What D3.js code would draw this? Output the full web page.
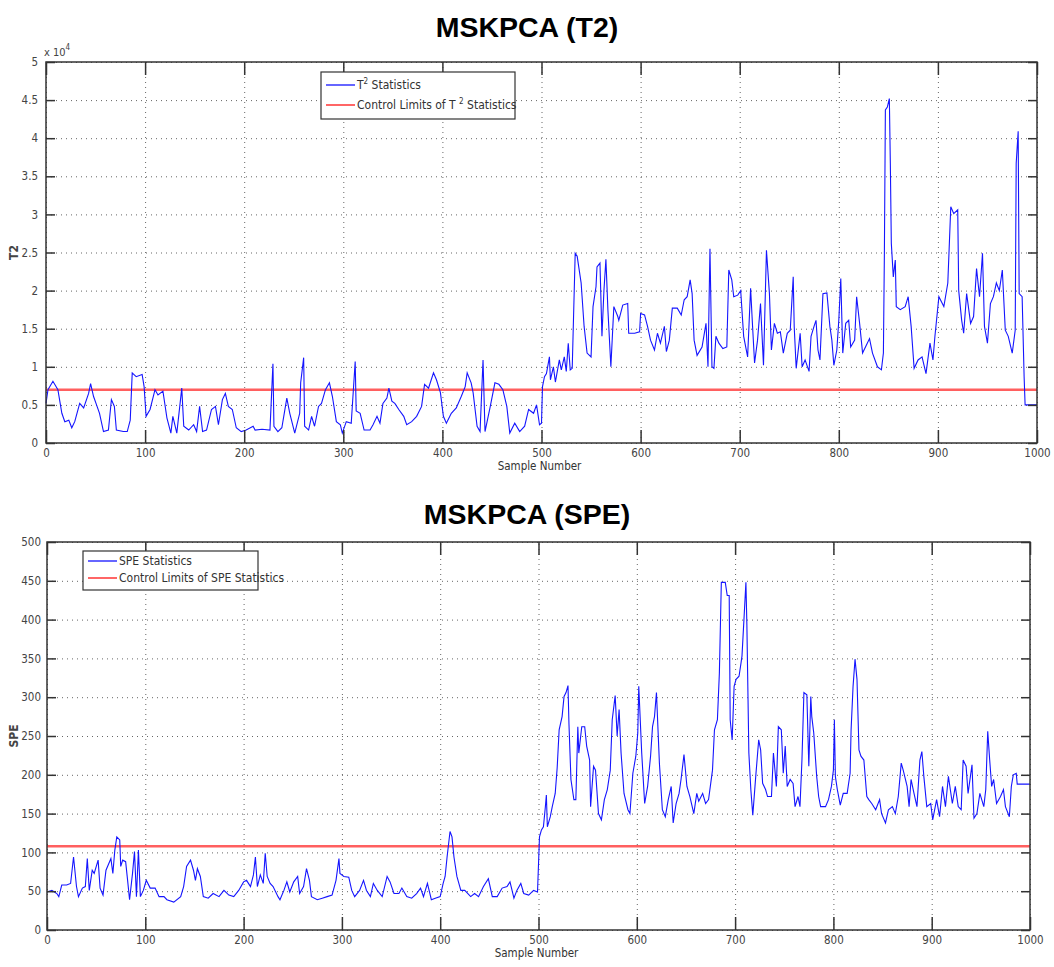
<!DOCTYPE html>
<html>
<head>
<meta charset="utf-8">
<script src="https://cdn.jsdelivr.net/npm/d3@7"></script>
<style>
  body { margin: 0; background: #fff; }
  svg { display: block; }
</style>
</head>
<body>
<svg id="chart" width="1054" height="967"></svg>
<script>
// sample axis ticks shared by both panels
const sampleTicks = [0, 100, 200, 300, 400, 500, 600, 700, 800, 900, 1000];
const t2Ticks = [0, 0.5, 1, 1.5, 2, 2.5, 3, 3.5, 4, 4.5, 5];     // x 10^4
const speTicks = [0, 50, 100, 150, 200, 250, 300, 350, 400, 450, 500];

const t2Limit = 0.7;    // x 10^4
const speLimit = 108;

// [sample, T2 (x 10^4)]
const t2Series = [
  [0,0.52],[2,0.70],[7,0.81],[12,0.70],[16,0.39],[19,0.28],[23,0.30],[26,0.20],[29,0.28],[34,0.52],
  [38,0.46],[43,0.65],[45,0.78],[48,0.61],[51,0.50],[54,0.39],[58,0.15],[63,0.17],[66,0.57],[69,0.48],
  [71,0.17],[78,0.15],[82,0.15],[85,0.30],[87,0.92],[91,0.87],[97,0.90],[99,0.74],[101,0.35],[105,0.44],
  [110,0.70],[113,0.63],[118,0.68],[122,0.33],[126,0.13],[128,0.35],[132,0.13],[137,0.72],[139,0.22],[144,0.17],
  [149,0.24],[152,0.15],[155,0.48],[158,0.15],[162,0.17],[167,0.44],[171,0.48],[174,0.24],[178,0.57],[181,0.65],
  [184,0.48],[188,0.44],[192,0.20],[197,0.15],[202,0.17],[209,0.22],[211,0.17],[218,0.18],[226,0.17],[229,1.04],
  [230,0.22],[234,0.15],[238,0.20],[243,0.59],[246,0.39],[251,0.13],[256,0.39],[257,0.79],[260,1.12],[261,0.22],
  [265,0.17],[268,0.35],[271,0.22],[275,0.48],[278,0.52],[282,0.70],[286,0.79],[289,0.61],[293,0.28],[297,0.24],
  [299,0.13],[303,0.28],[308,0.26],[312,1.07],[313,0.42],[317,0.39],[321,0.17],[327,0.17],[330,0.24],[334,0.35],
  [337,0.26],[340,0.52],[344,0.59],[346,0.72],[349,0.55],[352,0.52],[356,0.44],[361,0.35],[364,0.24],[369,0.28],
  [374,0.35],[379,0.48],[382,0.77],[386,0.72],[391,0.92],[394,0.83],[398,0.66],[401,0.35],[404,0.26],[409,0.39],
  [414,0.46],[419,0.61],[423,0.74],[425,0.92],[429,0.79],[431,0.66],[435,0.22],[438,0.15],[441,1.09],[443,0.15],
  [448,0.46],[453,0.79],[457,0.77],[461,0.70],[465,0.48],[468,0.13],[473,0.26],[478,0.15],[483,0.22],[487,0.44],
  [492,0.39],[495,0.50],[498,0.24],[500,0.26],[501,0.74],[503,0.87],[505,0.91],[508,1.13],[509,0.83],[512,1.00],
  [514,0.80],[518,1.09],[520,0.96],[523,1.13],[525,0.94],[527,1.31],[529,0.96],[531,0.98],[534,2.49],[536,2.45],
  [540,2.10],[543,1.53],[546,1.18],[550,1.13],[552,1.79],[555,2.05],[556,2.31],[559,2.36],[561,1.40],[563,2.00],
  [565,2.41],[567,1.75],[570,1.00],[573,1.79],[577,1.66],[578,1.61],[582,1.81],[587,1.83],[588,1.44],[594,1.44],
  [599,1.46],[600,1.70],[604,1.68],[607,1.53],[610,1.35],[614,1.22],[617,1.44],[620,1.31],[624,1.53],[626,1.20],
  [629,1.35],[632,1.77],[637,1.77],[641,1.68],[644,1.88],[647,1.92],[650,2.14],[652,1.96],[654,1.35],[657,1.15],
  [662,1.26],[666,1.57],[668,1.00],[670,2.55],[672,1.00],[674,0.98],[676,1.40],[679,1.31],[683,1.24],[687,1.26],
  [689,2.27],[692,2.14],[694,1.92],[698,1.94],[701,2.00],[704,1.40],[708,1.13],[711,2.03],[713,1.53],[715,1.05],
  [718,1.35],[721,1.83],[724,1.02],[727,2.53],[730,1.96],[732,1.22],[735,1.57],[738,1.44],[741,1.46],[744,1.18],
  [748,1.44],[751,1.48],[754,2.18],[755,1.53],[757,0.98],[761,1.44],[763,1.00],[766,1.09],[770,0.94],[772,1.40],
  [775,1.53],[777,1.61],[779,1.22],[781,1.09],[784,1.96],[788,1.97],[791,1.53],[793,1.35],[795,1.02],[798,1.22],
  [800,1.61],[802,2.16],[804,1.18],[807,1.57],[810,1.61],[812,1.26],[816,1.35],[818,1.92],[821,1.57],[824,1.18],
  [828,1.29],[831,1.37],[834,1.18],[839,1.00],[843,0.96],[845,1.18],[846,2.49],[847,4.37],[849,4.41],[851,4.52],
  [852,3.67],[853,2.62],[855,2.18],[857,2.40],[858,1.79],[862,1.75],[867,1.79],[870,1.92],[873,1.53],[876,0.98],
  [880,1.09],[884,1.13],[888,0.91],[892,1.31],[895,1.09],[897,1.40],[901,1.92],[906,1.79],[910,2.10],[913,3.10],
  [916,3.01],[920,3.06],[921,2.00],[924,1.61],[926,1.44],[929,1.96],[933,1.57],[936,1.66],[939,2.29],[942,1.92],
  [945,2.49],[947,1.53],[950,1.31],[953,1.83],[956,1.92],[959,2.10],[962,2.00],[965,2.27],[968,1.48],[971,1.40],
  [975,1.18],[978,1.48],[979,3.67],[981,4.09],[982,1.96],[985,1.92],[987,0.87],[988,0.50],[1000,0.50]
];

// [sample, SPE]
const speSeries = [
  [0,49],[5,51],[10,47],[12,43],[15,58],[20,58],[24,60],[27,94],[30,56],[32,43],
  [36,54],[39,56],[41,92],[43,51],[46,77],[48,73],[52,90],[54,54],[57,45],[60,77],
  [63,86],[65,92],[67,73],[69,103],[71,120],[74,116],[75,82],[77,90],[80,88],[82,64],
  [84,39],[87,73],[89,101],[91,43],[93,103],[95,43],[98,51],[101,64],[105,54],[110,54],
  [114,43],[119,43],[122,39],[129,36],[136,43],[139,56],[142,82],[146,90],[149,77],[151,64],
  [153,79],[156,69],[159,43],[164,41],[169,47],[175,43],[180,51],[185,45],[190,43],[195,51],
  [200,62],[203,64],[207,56],[210,71],[212,94],[214,56],[217,71],[220,60],[222,99],[224,69],
  [227,60],[230,56],[235,43],[237,39],[241,51],[244,62],[247,49],[251,62],[255,69],[257,47],
  [261,56],[264,79],[267,64],[269,43],[275,39],[280,41],[285,43],[290,45],[294,64],[297,92],
  [298,73],[302,69],[307,68],[310,51],[313,43],[318,51],[322,64],[325,51],[329,43],[332,60],
  [336,51],[341,43],[346,69],[349,62],[353,47],[358,47],[361,54],[366,43],[371,41],[376,47],
  [380,54],[383,43],[387,60],[391,39],[395,41],[400,43],[403,60],[405,69],[407,94],[410,127],
  [412,120],[414,94],[417,69],[421,51],[425,51],[431,43],[435,47],[439,43],[444,56],[449,66],
  [453,43],[458,43],[463,54],[468,56],[471,62],[475,41],[478,51],[482,60],[485,47],[490,45],
  [495,51],[499,49],[501,120],[503,129],[505,133],[507,159],[508,174],[509,133],[512,146],[514,159],
  [517,176],[519,209],[521,258],[524,275],[526,301],[528,306],[530,315],[531,265],[533,194],[536,168],
  [538,168],[540,262],[541,228],[544,262],[547,262],[549,237],[552,219],[553,159],[556,211],[558,206],
  [561,150],[564,142],[567,168],[570,181],[573,206],[575,271],[578,302],[580,250],[582,284],[584,228],
  [587,176],[591,155],[593,150],[596,202],[599,224],[601,254],[602,314],[605,228],[608,163],[611,185],
  [614,224],[616,262],[618,275],[620,306],[623,215],[626,155],[629,146],[632,168],[635,185],[637,138],
  [640,163],[643,176],[645,194],[648,226],[651,185],[654,172],[658,150],[661,176],[663,166],[667,176],
  [670,163],[673,168],[677,206],[679,258],[682,271],[684,331],[686,448],[690,448],[692,431],[694,431],
  [695,271],[697,245],[699,314],[701,323],[704,327],[706,344],[707,353],[709,400],[711,448],[712,392],
  [714,228],[716,181],[718,148],[721,198],[724,245],[726,232],[728,189],[731,181],[733,172],[737,172],
  [739,228],[742,185],[744,262],[747,258],[749,202],[751,237],[753,185],[756,194],[759,189],[761,159],
  [764,172],[766,159],[768,219],[770,306],[773,303],[775,211],[777,301],[778,275],[780,254],[783,198],
  [785,172],[787,159],[792,159],[795,168],[798,185],[800,206],[801,271],[802,198],[804,181],[807,161],
  [810,176],[814,176],[817,202],[818,258],[820,314],[822,349],[824,323],[826,232],[828,224],[831,219],
  [834,172],[836,168],[839,163],[843,155],[847,168],[849,150],[853,138],[856,155],[860,159],[863,150],
  [866,172],[869,215],[871,206],[875,185],[877,159],[879,194],[882,176],[885,159],[888,219],[890,230],
  [892,198],[895,159],[899,163],[901,142],[905,168],[908,146],[911,185],[914,159],[917,198],[921,163],
  [924,185],[927,159],[930,155],[932,219],[935,211],[937,176],[941,213],[943,144],[946,150],[949,176],
  [953,159],[955,181],[957,256],[959,219],[961,185],[963,194],[966,163],[970,172],[973,181],[975,159],
  [979,146],[981,185],[983,200],[986,202],[987,188],[1000,188]
];

const svg = d3.select('#chart');
const narrow = '"Liberation Sans Narrow", "Arial Narrow", "DejaVu Sans Condensed", sans-serif';

function styleTicks(a) {
  a.select('.domain').remove();
  a.selectAll('.tick line').attr('stroke', '#333').attr('stroke-width', 1.5);
  a.selectAll('.tick text').attr('fill', '#444').style('font-family', narrow).style('font-size', '11.5px');
}

function drawPanel(p) {
  let x = d3.scaleLinear().domain([0, 1000]).range([p.left, p.right]);
  let y = d3.scaleLinear().domain([0, p.ymax]).range([p.bottom, p.top]);
  let h = p.bottom - p.top, w = p.right - p.left;
  let g = svg.append('g');

  // dotted grid
  g.append('g').attr('transform', 'translate(0,' + p.bottom + ')')
    .call(d3.axisBottom(x).tickValues(sampleTicks).tickSize(-h).tickFormat(''))
    .call(a => a.select('.domain').remove())
    .call(a => a.selectAll('line').attr('stroke', '#666').attr('stroke-dasharray', '1,4'));
  g.append('g').attr('transform', 'translate(' + p.left + ',0)')
    .call(d3.axisLeft(y).tickValues(p.yTicks).tickSize(-w).tickFormat(''))
    .call(a => a.select('.domain').remove())
    .call(a => a.selectAll('line').attr('stroke', '#666').attr('stroke-dasharray', '1,4'));

  // control limit
  g.append('line')
    .attr('x1', x(0)).attr('x2', x(1000))
    .attr('y1', y(p.limit)).attr('y2', y(p.limit))
    .attr('stroke', '#ff2a2a').attr('stroke-opacity', 0.75).attr('stroke-width', 2.5);

  // statistic line
  let line = d3.line().x(d => x(d[0])).y(d => y(d[1]));
  g.append('path').datum(p.data)
    .attr('d', line)
    .attr('fill', 'none')
    .attr('stroke', '#1515ff')
    .attr('stroke-width', 1.1);

  // inward ticks on all four sides (matlab look)
  g.append('g').attr('transform', 'translate(0,' + p.bottom + ')')
    .call(d3.axisBottom(x).tickValues(sampleTicks).tickSize(-13).tickPadding(6).tickFormat(d3.format('d')))
    .call(styleTicks);
  g.append('g').attr('transform', 'translate(0,' + p.top + ')')
    .call(d3.axisTop(x).tickValues(sampleTicks).tickSize(-13).tickFormat(''))
    .call(styleTicks);
  g.append('g').attr('transform', 'translate(' + p.left + ',0)')
    .call(d3.axisLeft(y).tickValues(p.yTicks).tickSize(-9).tickPadding(p.yPad).tickFormat(p.yFormat))
    .call(styleTicks);
  g.append('g').attr('transform', 'translate(' + p.right + ',0)')
    .call(d3.axisRight(y).tickValues(p.yTicks).tickSize(-9).tickFormat(''))
    .call(styleTicks);

  // frame
  g.append('rect')
    .attr('x', p.left).attr('y', p.top).attr('width', w).attr('height', h)
    .attr('fill', 'none').attr('stroke', '#333').attr('stroke-width', 1.5);

  // titles
  svg.append('text')
    .attr('x', 527).attr('y', p.titleY)
    .attr('text-anchor', 'middle')
    .style('font-family', 'Arial, "Liberation Sans", sans-serif')
    .style('font-weight', 'bold').style('font-size', '28.5px')
    .text(p.title);
  svg.append('text')
    .attr('x', (p.left + p.right) / 2 - 2).attr('y', p.bottom + 27)
    .attr('text-anchor', 'middle')
    .style('font-family', narrow).style('font-size', '11.5px').attr('fill', '#333')
    .text('Sample Number');
  svg.append('text')
    .attr('transform', 'translate(18,' + (p.top + p.bottom) / 2 + ') rotate(-90)')
    .attr('text-anchor', 'middle')
    .style('font-family', narrow).style('font-size', '12px').style('font-weight', 'bold').attr('fill', '#444')
    .text(p.yLabel);

  // legend
  let lg = g.append('g').attr('transform', 'translate(' + p.legend[0] + ',' + p.legend[1] + ')');
  lg.append('rect').attr('width', p.legend[2]).attr('height', p.legend[3])
    .attr('fill', '#fff').attr('stroke', '#333').attr('stroke-width', 1.2);
  p.legendItems.forEach(function (it, i) {
    let yy = p.legendRow0 + i * p.legendStep;
    lg.append('line').attr('x1', 5).attr('x2', 34).attr('y1', yy).attr('y2', yy)
      .attr('stroke', it.color).attr('stroke-width', 1.5);
    let t = lg.append('text').attr('x', 36).attr('y', yy + 4)
      .style('font-family', narrow).style('font-size', '12px').attr('fill', '#333');
    it.parts.forEach(function (pt) {
      let s = t.append('tspan').text(pt.text);
      if (pt.sup) s.attr('dy', -5).style('font-size', '8px');
      else if (pt.after) s.attr('dy', 5);
    });
  });
  return { x: x, y: y };
}

drawPanel({
  left: 46, right: 1037, top: 62, bottom: 443,
  ymax: 5, yTicks: t2Ticks, yPad: 8, yFormat: d3.format('~g'),
  data: t2Series, limit: t2Limit,
  title: 'MSKPCA (T2)', titleY: 37, yLabel: 'T2',
  legend: [321, 72, 194, 47], legendRow0: 13, legendStep: 20,
  legendItems: [
    { color: '#3333ff', parts: [{ text: 'T' }, { text: '2', sup: true }, { text: ' Statistics', after: true }] },
    { color: '#ff3333', parts: [{ text: 'Control Limits of T ' }, { text: '2', sup: true }, { text: ' Statistics', after: true }] }
  ]
});

// exponent label of the T2 axis
svg.append('text').attr('x', 44).attr('y', 56)
  .style('font-family', narrow).style('font-size', '11px').attr('fill', '#444')
  .text('x 10')
  .append('tspan').attr('dy', -6).style('font-size', '8px').text('4');

drawPanel({
  left: 47, right: 1030, top: 542, bottom: 930,
  ymax: 500, yTicks: speTicks, yPad: 6, yFormat: d3.format('d'),
  data: speSeries, limit: speLimit,
  title: 'MSKPCA (SPE)', titleY: 524, yLabel: 'SPE',
  legend: [83, 551, 175, 39], legendRow0: 10, legendStep: 17,
  legendItems: [
    { color: '#3333ff', parts: [{ text: 'SPE Statistics' }] },
    { color: '#ff3333', parts: [{ text: 'Control Limits of SPE Statistics' }] }
  ]
});
</script>
</body>
</html>
